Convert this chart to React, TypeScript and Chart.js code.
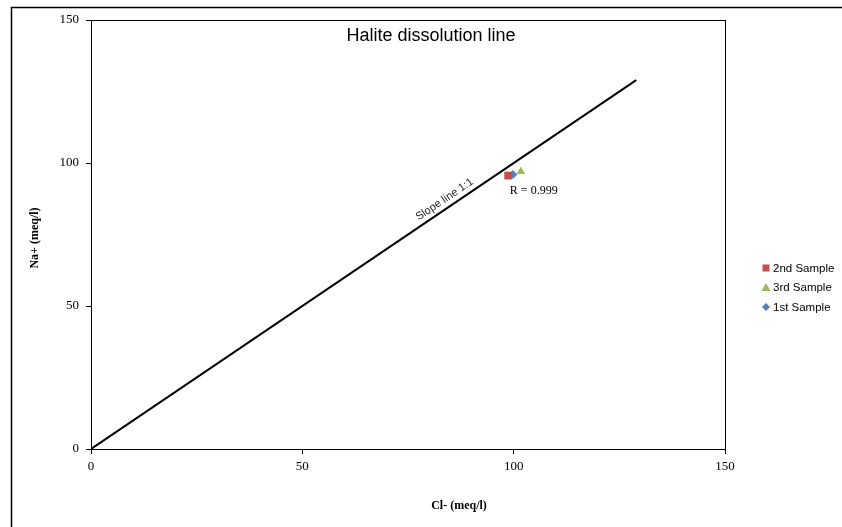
import React, { useEffect, useRef } from "react";
import { Chart, registerables } from "chart.js";

Chart.register(...registerables);

const xTicks = [0, 50, 100, 150];
const yTicks = [0, 50, 100, 150];
const slopeLineX = [0, 129];
const slopeLineY = [0, 129];
const seriesNames = ["2nd Sample", "3rd Sample", "1st Sample"];
const seriesCl = [98.7, 101.7, 99.8];
const seriesNa = [95.6, 97.0, 96.0];
const seriesColors = ["#C0504D", "#9BBB59", "#4F81BD"];
const seriesStyles = ["rect", "triangle", "rectRot"];
const seriesRadius = [5.5, 5, 4.5];
const chartTitle = "Halite dissolution line";
const xTitle = "Cl- (meq/l)";
const yTitle = "Na+ (meq/l)";
const slopeLabel = "Slope line 1:1";
const rLabel = "R = 0.999";

const SERIF = "'Liberation Serif', 'Times New Roman', serif";
const SANS = "'Liberation Sans', Arial, sans-serif";

const decorPlugin = {
  id: "decor",
  beforeDraw(chart: any) {
    const ctx = chart.ctx;
    ctx.save();
    ctx.fillStyle = "#fff";
    ctx.fillRect(0, 0, chart.width, chart.height);
    ctx.restore();
  },
  afterDraw(chart: any) {
    const ctx = chart.ctx;
    const a = chart.chartArea;
    const xs = chart.scales.x;
    const ys = chart.scales.y;
    ctx.save();
    // outer frame (only left and top visible)
    ctx.strokeStyle = "#000";
    ctx.lineWidth = 1.5;
    ctx.beginPath();
    ctx.moveTo(11.5, chart.height + 2);
    ctx.lineTo(11.5, 7.5);
    ctx.lineTo(chart.width + 2, 7.5);
    ctx.stroke();
    // plot frame
    ctx.lineWidth = 1;
    ctx.strokeRect(a.left + 0.5, a.top + 0.5, a.right - a.left, a.bottom - a.top);
    // title
    ctx.fillStyle = "#000";
    ctx.font = `18px ${SANS}`;
    ctx.textAlign = "center";
    ctx.textBaseline = "middle";
    ctx.fillText(chartTitle, 431, 36);
    // axis titles
    ctx.font = `bold 12px ${SERIF}`;
    ctx.fillText(xTitle, 459, 506);
    ctx.save();
    ctx.translate(35, 238);
    ctx.rotate(-Math.PI / 2);
    ctx.fillText(yTitle, 0, 0);
    ctx.restore();
    // slope label
    const x0 = xs.getPixelForValue(slopeLineX[0]);
    const y0 = ys.getPixelForValue(slopeLineY[0]);
    const x1 = xs.getPixelForValue(slopeLineX[1]);
    const y1 = ys.getPixelForValue(slopeLineY[1]);
    const ang = Math.atan2(y1 - y0, x1 - x0);
    ctx.save();
    ctx.translate(xs.getPixelForValue(84.8), ys.getPixelForValue(84.8));
    ctx.rotate(ang);
    ctx.font = `11px ${SANS}`;
    ctx.fillStyle = "#222";
    ctx.textAlign = "center";
    ctx.textBaseline = "bottom";
    ctx.fillText(slopeLabel, 0, -3);
    ctx.restore();
    // R label
    ctx.font = `12px ${SERIF}`;
    ctx.textAlign = "left";
    ctx.textBaseline = "middle";
    ctx.fillText(rLabel, xs.getPixelForValue(99.1), ys.getPixelForValue(90.3));
    // legend
    ctx.font = `11.5px ${SANS}`;
    seriesNames.forEach((name, i) => {
      const cy = 268 + i * 19.5;
      const cx = 766;
      ctx.fillStyle = seriesColors[i];
      ctx.beginPath();
      if (seriesStyles[i] === "rect") {
        ctx.rect(cx - 3.5, cy - 3.5, 7, 7);
      } else if (seriesStyles[i] === "triangle") {
        ctx.moveTo(cx, cy - 4.5);
        ctx.lineTo(cx + 4.5, cy + 3.5);
        ctx.lineTo(cx - 4.5, cy + 3.5);
        ctx.closePath();
      } else {
        ctx.moveTo(cx, cy - 4);
        ctx.lineTo(cx + 4, cy);
        ctx.lineTo(cx, cy + 4);
        ctx.lineTo(cx - 4, cy);
        ctx.closePath();
      }
      ctx.fill();
      ctx.fillStyle = "#000";
      ctx.fillText(name, 773, cy + 0.5);
    });
    ctx.restore();
  },
};

export default function App() {
  const ref = useRef<HTMLCanvasElement | null>(null);
  useEffect(() => {
    if (!ref.current) return;
    const datasets: any[] = [
      {
        label: "Slope line",
        type: "line",
        data: slopeLineX.map((x, i) => ({ x, y: slopeLineY[i] })),
        borderColor: "#000",
        borderWidth: 2,
        pointRadius: 0,
        showLine: true,
        fill: false,
      },
      ...seriesNames.map((name, i) => ({
        label: name,
        type: "scatter",
        data: [{ x: seriesCl[i], y: seriesNa[i] }],
        backgroundColor: seriesColors[i],
        borderColor: seriesColors[i],
        borderWidth: 0,
        pointStyle: seriesStyles[i],
        pointRadius: seriesRadius[i],
      })),
    ];
    const tickCommon = (vals: number[]) => ({
      min: vals[0],
      max: vals[vals.length - 1],
      ticks: {
        stepSize: vals[1] - vals[0],
        color: "#000",
        font: { family: SERIF, size: 13 },
      },
      grid: {
        display: true,
        drawOnChartArea: false,
        drawTicks: true,
        tickLength: 5,
        color: "#000",
      },
      border: { display: true, color: "#000", width: 1 },
    });
    const xCfg: any = tickCommon(xTicks);
    xCfg.type = "linear";
    xCfg.position = "bottom";
    xCfg.ticks.padding = 5;
    xCfg.afterFit = (s: any) => {
      s.height = 78;
    };
    const yCfg: any = tickCommon(yTicks);
    yCfg.type = "linear";
    yCfg.position = "left";
    yCfg.ticks.padding = 7;
    yCfg.afterFit = (s: any) => {
      s.width = 80;
    };
    const chart = new Chart(ref.current, {
      type: "scatter",
      data: { datasets },
      options: {
        responsive: false,
        animation: false,
        layout: { padding: { left: 11, top: 20, right: 117, bottom: 0 } },
        plugins: {
          legend: { display: false },
          tooltip: { enabled: false },
          title: { display: false },
        },
        scales: { x: xCfg, y: yCfg },
      },
      plugins: [decorPlugin],
    } as any);
    return () => chart.destroy();
  }, []);
  return (
    <div style={{ position: "fixed", left: 0, top: 0, width: 842, height: 527, background: "#fff" }}>
      <canvas ref={ref} width={842} height={527} style={{ display: "block", width: 842, height: 527 }} />
    </div>
  );
}
